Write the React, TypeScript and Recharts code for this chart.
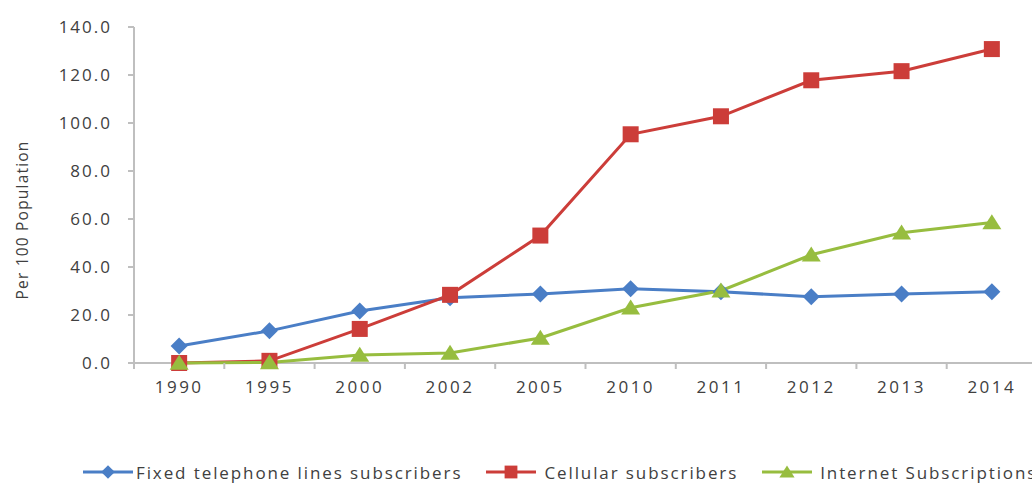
import React from "react";
import {
    LineChart,
    Line,
    XAxis,
    YAxis,
    Legend,
} from "recharts";

const years = ["1990", "1995", "2000", "2002", "2005", "2010", "2011", "2012", "2013", "2014"];
const fixedLines = [7.1, 13.4, 21.7, 27.2, 28.8, 30.9, 29.7, 27.6, 28.8, 29.7];
const cellular = [0.0, 0.9, 14.2, 28.4, 53.1, 95.3, 102.8, 117.8, 121.6, 130.8];
const internet = [0.0, 0.2, 3.3, 4.2, 10.4, 23.0, 30.1, 45.1, 54.3, 58.5];
const yTicks = [0, 20, 40, 60, 80, 100, 120, 140];

// category i sits at i + 0.5; whole numbers are the category boundaries
const data = years.map((year, i) => ({
    year,
    idx: i + 0.5,
    fixed: fixedLines[i],
    cellular: cellular[i],
    internet: internet[i],
}));
const xTicks = [0, ...years.flatMap((_, i) => [i + 0.5, i + 1])];

const BLUE = "#4a7ec6";
const RED = "#cc3d39";
const GREEN = "#97bd3f";
const AXIS = "#bfbfbf";
const TEXT = "#404040";
const FONT = "'Open Sans', sans-serif";

const series = [
    { key: "fixed", name: "Fixed telephone lines subscribers", color: BLUE, shape: "diamond" },
    { key: "cellular", name: "Cellular subscribers", color: RED, shape: "square" },
    { key: "internet", name: "Internet Subscriptions", color: GREEN, shape: "triangle" },
];

const Marker = ({ cx, cy, shape, color, size = 1 }: any) => {
    if (cx == null || cy == null) return null;
    if (shape === "diamond") {
        const r = 8.5 * size;
        return <polygon points={`${cx},${cy - r} ${cx + r},${cy} ${cx},${cy + r} ${cx - r},${cy}`} fill={color} />;
    }
    if (shape === "square") {
        const r = 8 * size;
        return <rect x={cx - r} y={cy - r} width={r * 2} height={r * 2} fill={color} />;
    }
    const w = 9.5 * size;
    const h = 15 * size;
    return <polygon points={`${cx},${cy - h * 0.55} ${cx + w},${cy + h * 0.45} ${cx - w},${cy + h * 0.45}`} fill={color} />;
};

const XTick = ({ x, y, payload }: any) => {
    const v = payload.value;
    if (Number.isInteger(v)) {
        return <line x1={x} y1={y} x2={x} y2={y + 6} stroke={AXIS} strokeWidth={2} />;
    }
    return (
        <text x={x} y={y + 18} dy="0.71em" textAnchor="middle" fill={TEXT} fontSize={17} fontFamily={FONT} letterSpacing={2.5}>
            {years[Math.floor(v)]}
        </text>
    );
};

const renderLegend = () => (
    <div style={{ display: "flex", whiteSpace: "nowrap", paddingLeft: 49, fontFamily: FONT, fontSize: 17, color: TEXT, letterSpacing: 1.9, height: 24, alignItems: "center" }}>
        {series.map((s, i) => (
            <div key={s.key} style={{ display: "flex", alignItems: "center", marginRight: 24 }}>
                <svg width={50} height={20}>
                    <line x1={0} y1={10} x2={50} y2={10} stroke={s.color} strokeWidth={3} />
                    <Marker cx={25} cy={10} shape={s.shape} color={s.color} size={0.8} />
                </svg>
                <span style={{ marginLeft: i === 0 ? 3 : 8 }}>{s.name}</span>
            </div>
        ))}
    </div>
);

const YLabel = ({ viewBox }: any) => {
    const x = viewBox.x - 12;
    const y = viewBox.y + viewBox.height / 2 + 25;
    return (
        <text x={x} y={y} transform={`rotate(-90 ${x} ${y})`} textAnchor="middle" dominantBaseline="central" fill={TEXT} fontSize={15.5} letterSpacing={1.2} fontFamily={FONT}>
            Per 100 Population
        </text>
    );
};

export default function App() {
    return (
        <div style={{ position: "absolute", left: 0, top: 0, width: 1032, height: 484, overflow: "hidden", background: "#fff" }}>
            <LineChart width={1045} height={484} data={data} margin={{ top: 27, right: 8, bottom: 0, left: 34 }}>
                <XAxis
                    dataKey="idx"
                    type="number"
                    domain={[0, 10]}
                    ticks={xTicks}
                    interval={0}
                    tickLine={false}
                    tickSize={0}
                    tickMargin={0}
                    height={97}
                    stroke={AXIS}
                    strokeWidth={2}
                    tick={<XTick />}
                    zIndex={-50}
                />
                <YAxis
                    domain={[0, 140]}
                    ticks={yTicks}
                    width={100}
                    tickFormatter={(v: number) => v.toFixed(1)}
                    tickSize={6}
                    tickMargin={16}
                    stroke={AXIS}
                    strokeWidth={2}
                    tick={{ fill: TEXT, fontSize: 17, fontFamily: FONT, letterSpacing: 2 }}
                    label={<YLabel />}
                    zIndex={-50}
                />
                <Legend verticalAlign="bottom" content={renderLegend} />
                {series.map((s) => (
                    <Line
                        key={s.key}
                        dataKey={s.key}
                        name={s.name}
                        stroke={s.color}
                        strokeWidth={3}
                        isAnimationActive={false}
                        dot={(p: any) => <Marker key={p.index} cx={p.cx} cy={p.cy} shape={s.shape} color={s.color} />}
                        activeDot={false}
                    />
                ))}
            </LineChart>
        </div>
    );
}
